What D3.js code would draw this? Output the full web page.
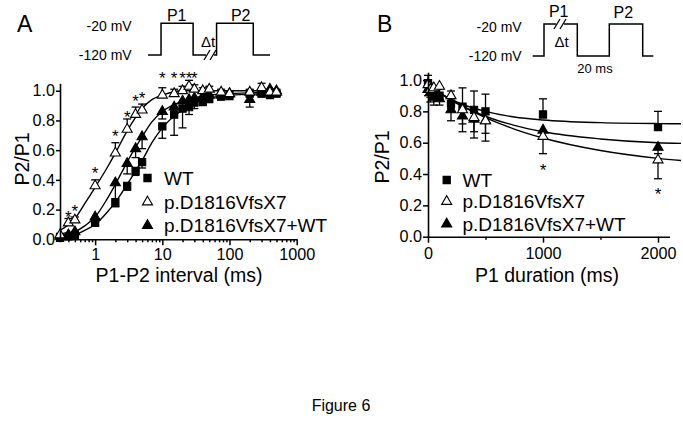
<!DOCTYPE html>
<html>
<head>
<meta charset="utf-8">
<script src="https://cdn.jsdelivr.net/npm/d3@7/dist/d3.min.js"></script>
<style>
  html, body { margin: 0; padding: 0; background: #fff; }
  svg { display: block; }
  text { font-family: 'Liberation Sans', Arial, Helvetica, sans-serif; fill: #000; }
</style>
</head>
<body>
<svg id="chart" width="683" height="441"></svg>
<script>
// ---------------- DATA ----------------
const seriesNames = ["WT", "p.D1816VfsX7", "p.D1816VfsX7+WT"];

// Panel A: recovery from inactivation (P1-P2 interval, ms)
const intervalA = [0.3, 0.4, 0.5, 1, 2, 3, 4, 5, 10, 15, 20, 25, 30, 40, 50, 75, 100, 200, 300, 400, 500];
const wtA      = [0.01, 0.02, 0.03, 0.11, 0.25, 0.36, 0.46, 0.52, 0.76, 0.84, 0.88, 0.89, 0.92, 0.93, 0.95, 0.96, 0.97, 0.98, 0.98, 0.97, 0.98];
const wtAErr   = [0.01, 0.01, 0.01, 0.02, 0.03, 0.03, 0.03, 0.04, 0.08, 0.14, 0.13, 0.05, 0.04, 0.03, 0.03, 0.02, 0.03, 0.02, 0.02, 0.02, 0.02];
const mutA     = [0.03, 0.11, 0.13, 0.36, 0.58, 0.74, 0.84, 0.87, 0.97, 0.98, 1.00, 1.03, 1.01, 1.00, 1.01, 0.99, 0.98, 0.99, 1.02, 0.99, 0.99];
const mutAErr  = [0.01, 0.03, 0.02, 0.04, 0.07, 0.07, 0.05, 0.04, 0.05, 0.03, 0.03, 0.04, 0.03, 0.02, 0.02, 0.02, 0.02, 0.02, 0.03, 0.02, 0.02];
const mixA     = [0.02, 0.03, 0.05, 0.15, 0.38, 0.51, 0.61, 0.69, 0.86, 0.89, 0.93, 0.94, 0.95, 0.96, 0.97, 0.97, 0.98, 0.94, 0.99, 1.01, 1.00];
const mixAErr  = [0.01, 0.01, 0.01, 0.02, 0.16, 0.07, 0.06, 0.08, 0.05, 0.04, 0.03, 0.03, 0.02, 0.02, 0.02, 0.02, 0.02, 0.05, 0.02, 0.02, 0.02];

// Panel A fitted curves
const fitAx    = [0.3, 0.5, 0.7, 1, 1.5, 2, 3, 4, 5, 7, 10, 20, 50, 100, 500];
const fitWtA   = [0.01, 0.03, 0.06, 0.10, 0.18, 0.25, 0.37, 0.46, 0.53, 0.65, 0.75, 0.87, 0.95, 0.97, 0.98];
const fitMutA  = [0.06, 0.14, 0.24, 0.35, 0.48, 0.58, 0.73, 0.82, 0.88, 0.94, 0.97, 1.00, 1.00, 1.00, 1.00];
const fitMixA  = [0.02, 0.05, 0.09, 0.15, 0.27, 0.37, 0.52, 0.62, 0.69, 0.79, 0.86, 0.93, 0.97, 0.98, 0.99];

// Panel A significance stars [interval, P2/P1 level]
const starsAx  = [0.4, 0.5, 1, 2, 3, 4, 5, 10, 15, 20, 25, 30];
const starsAy  = [0.18, 0.22, 0.47, 0.72, 0.85, 0.96, 0.98, 1.115, 1.115, 1.115, 1.115, 1.115];

// Panel B: P1 duration (ms)
const durationB = [0, 20, 50, 100, 200, 300, 400, 500, 1000, 2000];
const wtB       = [0.98, 0.95, 0.92, 0.90, 0.85, 0.83, 0.81, 0.80, 0.78, 0.70];
const wtBErr    = [0.05, 0.03, 0.03, 0.04, 0.08, 0.12, 0.12, 0.11, 0.10, 0.10];
const mutB      = [0.97, 0.94, 0.95, 0.96, 0.90, 0.81, 0.76, 0.74, 0.64, 0.49];
const mutBErr   = [0.04, 0.05, 0.06, 0.06, 0.08, 0.09, 0.13, 0.13, 0.11, 0.12];
const mixB      = [0.94, 0.92, 0.89, 0.88, 0.81, 0.77, 0.75, 0.74, 0.68, 0.57];
const mixBErr   = [0.04, 0.06, 0.05, 0.04, 0.07, 0.10, 0.08, 0.08, 0.05, 0.04];

// Panel B fitted curves
const fitBx     = [0, 100, 200, 300, 500, 750, 1000, 1500, 2000, 2200];
const fitWtB    = [0.97, 0.92, 0.878, 0.845, 0.80, 0.764, 0.745, 0.728, 0.722, 0.721];
const fitMutB   = [0.97, 0.919, 0.874, 0.832, 0.76, 0.687, 0.63, 0.55, 0.50, 0.486];
const fitMixB   = [0.97, 0.918, 0.872, 0.833, 0.769, 0.711, 0.67, 0.624, 0.60, 0.596];

const starsBx   = [1000, 2000];
const starsBy   = [0.45, 0.30];

// Axis ticks
const yTicks       = [0, 0.2, 0.4, 0.6, 0.8, 1.0];
const xMajorA      = [1, 10, 100, 1000];
const xMinorA      = [0.3,0.4,0.5,0.6,0.7,0.8,0.9, 2,3,4,5,6,7,8,9, 20,30,40,50,60,70,80,90, 200,300,400,500,600,700,800,900];
const xMajorB      = [0, 1000, 2000];
const xMinorB      = [500, 1500];

// Voltage protocols: [duration (a.u.), voltage mV]
const protoADur = [13, 32, 23.4, 36.6, 16.7];
const protoAV   = [-120, -20, -120, -20, -120];
const protoBDur = [11.3, 33.3, 32, 33.4, 10.6];
const protoBV   = [-120, -20, -120, -20, -120];

// ---------------- DRAWING ----------------
const svg = d3.select("#chart");
const FS_TICK = 16.2, FS_TITLE = 19.5, FS_LEG = 19;

function styleAxis(g) {
  g.selectAll("path.domain").attr("stroke", "#000").attr("stroke-width", 1.6);
  g.selectAll(".tick line").attr("stroke", "#000").attr("stroke-width", 1.5);
  g.selectAll(".tick text").attr("font-size", FS_TICK).attr("fill", "#000")
    .attr("font-family", "'Liberation Sans', Arial, sans-serif");
}

const symSquare = d3.symbol().type(d3.symbolSquare).size(52);
const symTri = d3.symbol().type(d3.symbolTriangle).size(44);
const markerStyles = [
  {path: symSquare(), fill: "#000"},
  {path: symTri(), fill: "#fff"},
  {path: symTri(), fill: "#000"}
];

function drawPanel(cfg) {
  const g = svg.append("g");
  const {x, y} = cfg;
  const line = d3.line().x(d => x(d[0])).y(d => y(d[1])).curve(d3.curveMonotoneX);
  cfg.fits.forEach(f => {
    g.append("path").attr("d", line(cfg.fitX.map((v, i) => [v, f[i]])))
      .attr("fill", "none").attr("stroke", "#000").attr("stroke-width", 1.4);
  });
  cfg.series.forEach((s, si) => {
    s.vals.forEach((v, i) => {
      const e = s.err[i];
      const xp = x(cfg.xs[i]);
      const ends = s.dir === "up" ? [v + e] : s.dir === "down" ? [v - e] : [v + e, v - e];
      ends.forEach(end => {
        g.append("line").attr("x1", xp).attr("x2", xp).attr("y1", y(v)).attr("y2", y(end))
          .attr("stroke", "#000").attr("stroke-width", 1.3);
        g.append("line").attr("x1", xp - 4).attr("x2", xp + 4).attr("y1", y(end)).attr("y2", y(end))
          .attr("stroke", "#000").attr("stroke-width", 1.3);
      });
    });
  });
  [0, 2, 1].forEach(si => {
    const s = cfg.series[si];
    const m = markerStyles[si];
    s.vals.forEach((v, i) => {
      g.append("path").attr("d", m.path)
        .attr("transform", `translate(${x(cfg.xs[i])},${y(v)})`)
        .attr("fill", m.fill).attr("stroke", "#000").attr("stroke-width", 1.1);
    });
  });
  cfg.starsX.forEach((sx, i) => {
    g.append("text").attr("x", x(sx)).attr("y", y(cfg.starsY[i]) + 10)
      .attr("text-anchor", "middle").attr("font-size", 17).text("*");
  });
  return g;
}

// ----- Panel A -----
const xA = d3.scaleLog().domain([0.3, 1000]).range([60, 296.7]);
const yA = d3.scaleLinear().domain([0, 1.05]).range([239.3, 83.3]);

drawPanel({
  x: xA, y: yA, xs: intervalA, fitX: fitAx,
  fits: [fitWtA, fitMixA, fitMutA],
  series: [
    {vals: wtA, err: wtAErr, dir: "down"},
    {vals: mutA, err: mutAErr, dir: "up"},
    {vals: mixA, err: mixAErr, dir: "down"}
  ],
  starsX: starsAx, starsY: starsAy
});

const gyA = svg.append("g").attr("transform", `translate(${xA.range()[0]},0)`)
  .call(d3.axisLeft(yA).tickValues(yTicks).tickFormat(d3.format(".1f")).tickSize(4).tickPadding(1).tickSizeOuter(0));
styleAxis(gyA);
const allA = xMinorA.concat(xMajorA).sort((a, b) => a - b);
const gxA = svg.append("g").attr("transform", `translate(0,${yA.range()[0]})`)
  .call(d3.axisBottom(xA).tickValues(allA).tickSize(6).tickPadding(3).tickSizeOuter(0)
    .tickFormat(d => xMajorA.includes(d) ? d3.format("d")(d) : ""));
styleAxis(gxA);
gxA.selectAll(".tick line").attr("y2", d => xMajorA.includes(d) ? 6 : 3);

// ----- Panel B -----
const xB = d3.scaleLinear().domain([0, 2100]).range([428, 669.5]);
const yB = d3.scaleLinear().domain([0, 1.05]).range([236.7, 72.2]);

drawPanel({
  x: xB, y: yB, xs: durationB, fitX: fitBx,
  fits: [fitWtB, fitMixB, fitMutB],
  series: [
    {vals: wtB, err: wtBErr, dir: "up"},
    {vals: mutB, err: mutBErr, dir: "down"},
    {vals: mixB, err: mixBErr, dir: "down"}
  ],
  starsX: starsBx, starsY: starsBy
});

const gyB = svg.append("g").attr("transform", `translate(${xB.range()[0]},0)`)
  .call(d3.axisLeft(yB).tickValues(yTicks).tickFormat(d3.format(".1f")).tickSize(5).tickPadding(1).tickSizeOuter(0));
styleAxis(gyB);
const allB = xMinorB.concat(xMajorB).sort((a, b) => a - b);
const gxB = svg.append("g").attr("transform", `translate(0,${yB.range()[0]})`)
  .call(d3.axisBottom(xB).tickValues(allB).tickSize(6).tickPadding(5).tickSizeOuter(0)
    .tickFormat(d => xMajorB.includes(d) ? d3.format("d")(d) : ""));
styleAxis(gxB);
gxB.selectAll(".tick line").attr("y2", d => xMajorB.includes(d) ? 6 : 3);

// ----- Axis titles -----
svg.append("text").attr("transform", "translate(29,159) rotate(-90)")
  .attr("text-anchor", "middle").attr("font-size", FS_TITLE).text("P2/P1");
svg.append("text").attr("transform", "translate(389,157) rotate(-90)")
  .attr("text-anchor", "middle").attr("font-size", FS_TITLE).text("P2/P1");
svg.append("text").attr("x", 179).attr("y", 281.5).attr("text-anchor", "middle")
  .attr("font-size", FS_TITLE).text("P1-P2 interval (ms)");
svg.append("text").attr("x", 547).attr("y", 281.5).attr("text-anchor", "middle")
  .attr("font-size", FS_TITLE).text("P1 duration (ms)");

// ----- Legends -----
function legend(mx, tx, baselines) {
  seriesNames.forEach((name, i) => {
    const m = markerStyles[i];
    svg.append("path").attr("d", m.path)
      .attr("transform", `translate(${mx},${baselines[i] - 6.5})`)
      .attr("fill", m.fill).attr("stroke", "#000").attr("stroke-width", 1.1);
    svg.append("text").attr("x", tx).attr("y", baselines[i]).attr("font-size", FS_LEG).text(name);
  });
}
legend(147.5, 164, [184.5, 208.5, 232]);
legend(446.7, 462.5, [186.5, 208, 230.5]);

// ----- Panel letters -----
svg.append("text").attr("x", 17).attr("y", 32).attr("font-size", 23).text("A");
svg.append("text").attr("x", 377).attr("y", 32).attr("font-size", 23).text("B");

// ----- Protocol insets -----
function protocol(x0, x1, yTop, yBase, durs, volts, labelX) {
  const total = d3.sum(durs);
  const tx = d3.scaleLinear().domain([0, total]).range([x0, x1]);
  const vy = d3.scaleLinear().domain([-120, -20]).range([yBase, yTop]);
  const pts = [];
  let t = 0;
  durs.forEach((d, i) => { pts.push([t, volts[i]]); t += d; pts.push([t, volts[i]]); });
  const g = svg.append("g");
  g.append("path").attr("d", d3.line().x(d => tx(d[0])).y(d => vy(d[1]))(pts))
    .attr("fill", "none").attr("stroke", "#000").attr("stroke-width", 1.5);
  g.append("text").attr("x", labelX).attr("y", vy(-20) + 8).attr("text-anchor", "end").attr("font-size", 14).text("-20 mV");
  g.append("text").attr("x", labelX).attr("y", vy(-120) + 5).attr("text-anchor", "end").attr("font-size", 14).text("-120 mV");
  return {g, tx, vy};
}
function breakMark(g, xc, yc) {
  g.append("rect").attr("x", xc - 4).attr("y", yc - 2).attr("width", 8).attr("height", 4).attr("fill", "#fff");
  [-3, 3].forEach(dx => {
    g.append("line").attr("x1", xc + dx - 3).attr("y1", yc + 5).attr("x2", xc + dx + 3).attr("y2", yc - 5)
      .attr("stroke", "#000").attr("stroke-width", 1.3);
  });
}
const pA = protocol(148, 270, 23.3, 55, protoADur, protoAV, 131.7);
breakMark(pA.g, 210, pA.vy(-120));
pA.g.append("text").attr("x", 176.7).attr("y", 21).attr("text-anchor", "middle").attr("font-size", 16).text("P1");
pA.g.append("text").attr("x", 240.7).attr("y", 21).attr("text-anchor", "middle").attr("font-size", 16).text("P2");
pA.g.append("text").attr("x", 208).attr("y", 46.7).attr("text-anchor", "middle").attr("font-size", 15).text("Δt");

const pB = protocol(532.7, 653.3, 24, 56, protoBDur, protoBV, 521.7);
breakMark(pB.g, 560, pB.vy(-20));
pB.g.append("text").attr("x", 558.7).attr("y", 17).attr("text-anchor", "middle").attr("font-size", 16).text("P1");
pB.g.append("text").attr("x", 623.3).attr("y", 18).attr("text-anchor", "middle").attr("font-size", 16).text("P2");
pB.g.append("text").attr("x", 561.7).attr("y", 47).attr("text-anchor", "middle").attr("font-size", 15).text("Δt");
pB.g.append("text").attr("x", 595).attr("y", 72.7).attr("text-anchor", "middle").attr("font-size", 13).text("20 ms");

// ----- Figure caption -----
svg.append("text").attr("x", 341).attr("y", 411).attr("text-anchor", "middle").attr("font-size", 16).text("Figure 6");
</script>
</body>
</html>
